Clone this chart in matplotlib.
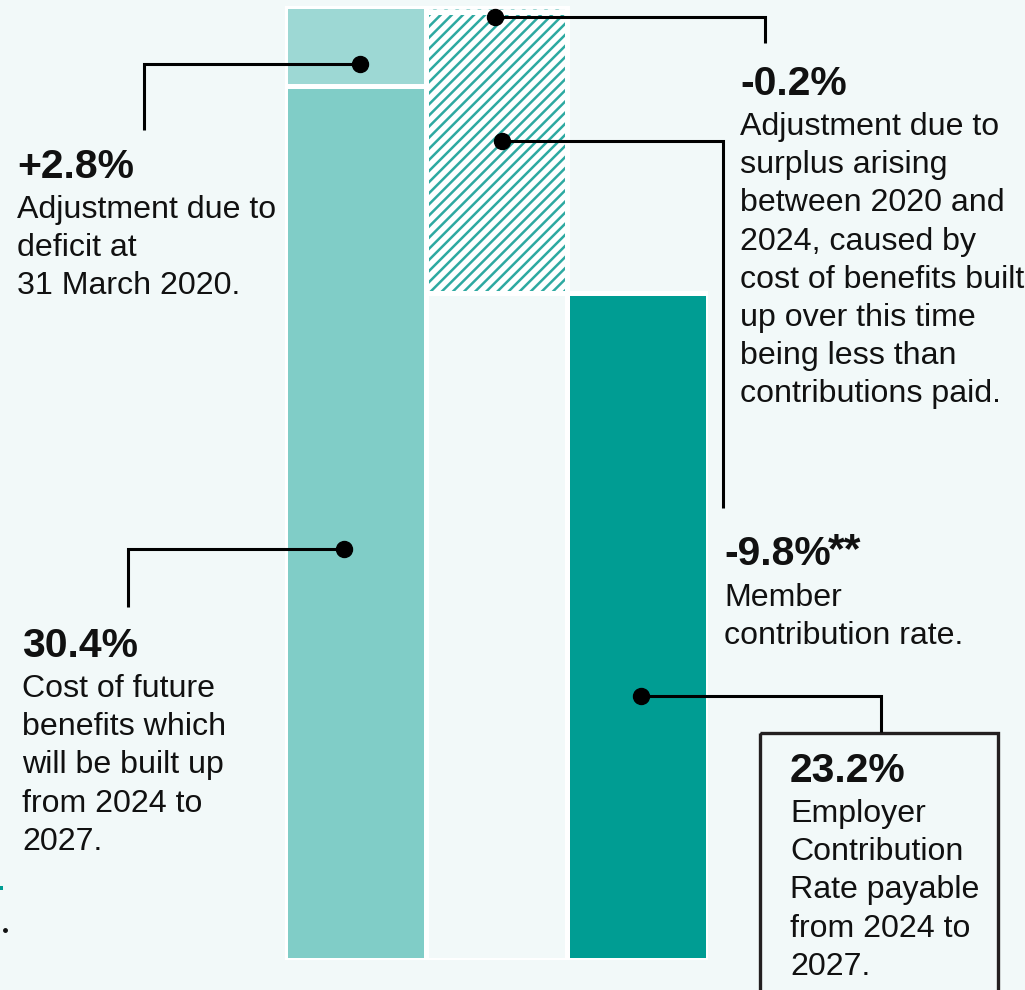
import matplotlib
matplotlib.use('Agg')
import matplotlib.pyplot as plt
from matplotlib.patches import Rectangle

plt.rcParams['font.family'] = ['Liberation Sans', 'DejaVu Sans']
plt.rcParams['hatch.linewidth'] = 1.8

# contribution rate build-up (% of pay)
cost_future = 30.4     # cost of future benefits 2024-2027
deficit_adj = 2.8      # deficit at 31 March 2020
surplus_adj = -0.2     # surplus arising 2020-2024
member_rate = -9.8     # member contribution rate
employer_rate = 23.2   # employer contribution rate

bg = '#F2F9F9'
c_cost = '#80CDC7'
c_deficit = '#9DD8D4'
c_hatch = '#2EA9A1'
c_employer = '#009D93'
edge_w = 3.6

fig = plt.figure(figsize=(10.25, 9.9), dpi=100, facecolor=bg)

# bar axes
ax = fig.add_axes([284.5 / 1025, 30 / 990, 423 / 1025, 954 / 990])
ax.set_facecolor(bg)
ax.set_xlim(-0.5, 2.5)
ax.set_ylim(0, cost_future + deficit_adj)
ax.axis('off')

total = cost_future + deficit_adj

# first column: cost + deficit
ax.bar(0, cost_future, width=1, color=c_cost, edgecolor='white', linewidth=edge_w)
ax.bar(0, deficit_adj, bottom=cost_future, width=1, color=c_deficit,
       edgecolor='white', linewidth=edge_w)

# middle column: empty base + hatched reductions
ax.bar(1, employer_rate, width=1, color=bg, edgecolor='white', linewidth=edge_w)
ax.bar(1, surplus_adj, bottom=total, width=1, facecolor='white', edgecolor=c_hatch,
       linewidth=0, hatch='///', alpha=0.45)
ax.bar(1, member_rate, bottom=total + surplus_adj, width=1, facecolor='white',
       edgecolor=c_hatch, linewidth=0, hatch='///')
ax.bar(1, surplus_adj, bottom=total, width=1, fill=False, edgecolor='white', linewidth=edge_w)
ax.bar(1, member_rate, bottom=total + surplus_adj, width=1, fill=False,
       edgecolor='white', linewidth=edge_w)

# last column: employer rate
ax.bar(2, employer_rate, width=1, color=c_employer, edgecolor='white', linewidth=edge_w)

# annotation layer in pixel units
ov = fig.add_axes([0, 0, 1, 1], facecolor='none')
ov.set_xlim(0, 1025)
ov.set_ylim(990, 0)
ov.axis('off')

head_fs = 29.4
body_fs = 23.1
line_h = 38.2


def connector(pts):
    xs = [p[0] for p in pts]
    ys = [p[1] for p in pts]
    ov.plot(xs, ys, color='black', lw=2.2, solid_capstyle='butt', solid_joinstyle='miter')
    ov.plot(xs[0], ys[0], 'o', color='black', markersize=11.5)


def block(x, y_head, head, lines, y_body):
    ov.text(x, y_head, head, fontsize=head_fs, fontweight='bold', va='baseline',
            ha='left', color='#111111')
    for i, ln in enumerate(lines):
        ov.text(x, y_body + i * line_h, ln, fontsize=body_fs, va='baseline',
                ha='left', color='#111111')


connector([(360, 64), (144, 64), (144, 130)])
block(17, 178, '+%.1f%%' % deficit_adj,
      ['Adjustment due to', 'deficit at', '31 March 2020.'], 218)

connector([(344, 549), (128, 549), (128, 607)])
block(22, 657, '%.1f%%' % cost_future,
      ['Cost of future', 'benefits which', 'will be built up',
       'from 2024 to', '2027.'], 697)

connector([(495, 17), (765, 17), (765, 43)])
block(740, 95, '%.1f%%' % surplus_adj,
      ['Adjustment due to', 'surplus arising', 'between 2020 and',
       '2024, caused by', 'cost of benefits built', 'up over this time',
       'being less than', 'contributions paid.'], 135)

connector([(502, 141), (723, 141), (723, 508)])
block(724, 565, '%.1f%%' % member_rate, ['Member', 'contribution rate.'], 606)
ov.text(828, 562, '**', fontsize=31, fontweight='bold', va='baseline',
        ha='left', color='#111111')

connector([(641, 696), (881, 696), (881, 732)])
ov.add_patch(Rectangle((760, 733), 238, 300, fill=False, edgecolor='#231F20', lw=2.4))
block(790, 782, '%.1f%%' % employer_rate,
      ['Employer', 'Contribution', 'Rate payable', 'from 2024 to', '2027.'], 822)

# cut-off marks at left edge
ov.add_patch(Rectangle((0, 886), 3, 4, color=c_employer, lw=0))
ov.plot(5, 930, 'o', color='#111111', markersize=2.5)

fig.savefig('out.png', dpi=100, facecolor=bg)
